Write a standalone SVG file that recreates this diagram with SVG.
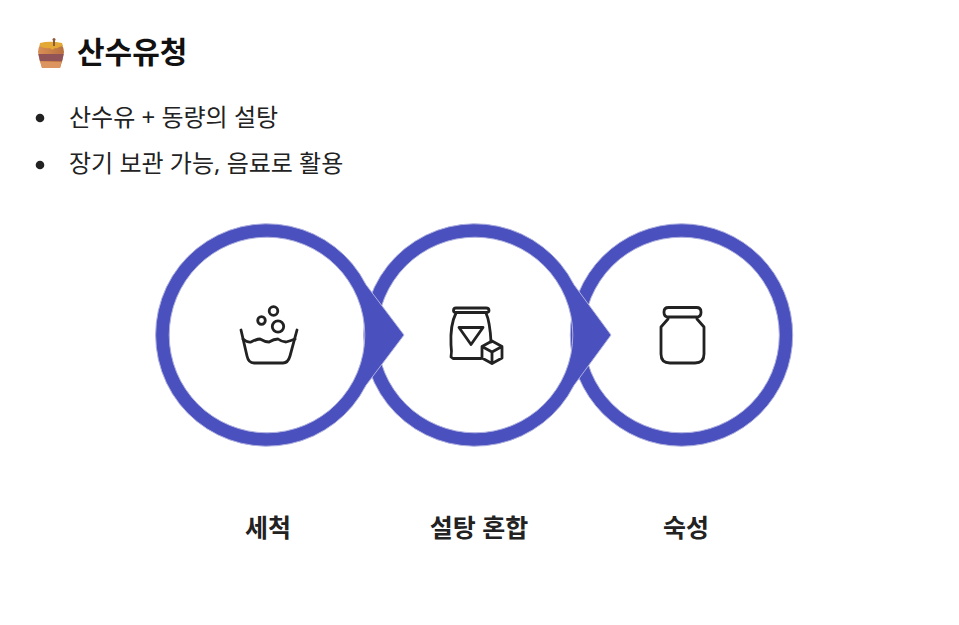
<svg xmlns="http://www.w3.org/2000/svg" width="959" height="625" viewBox="0 0 959 625">
<style>
text{font-family:"Noto Sans","Noto Sans CJK KR",sans-serif;fill:#222}
.t{font-size:30px;font-weight:700;fill:#111}
.b{font-size:24px;font-weight:400}
.l{font-size:25px;font-weight:700;text-anchor:middle}
.r{fill:#4a51bf;stroke:#aeb0df;stroke-width:1;fill-rule:evenodd}
.i{fill:none;stroke:#222;stroke-width:2.8;stroke-linecap:round;stroke-linejoin:round}
</style>
<defs>
<linearGradient id="potg" x1="0" y1="0" x2="1" y2="0"><stop offset="0" stop-color="#d98f55"/><stop offset="1" stop-color="#b8703f"/></linearGradient>
</defs>
<rect width="959" height="625" fill="#fff"/>
<g id="title">
<g id="pot">
<path d="M41 43H61Q64 48 64 52Q63 60 60 68H42Q39 60 38 52Q38 48 41 43Z" fill="url(#potg)"/>
<path d="M38.300 54H63.700L62 61H40Z" fill="#8f5358"/>
<path d="M40.500 62H61.500L60 68H42Z" fill="#dc9560"/>
<path d="M40 43Q50 40.500 62 43L63 46L59 47Q57 49 55 48Q52 51 50 48Q45 49 39.500 46Z" fill="#e3a835"/>
<path d="M54 39V46" stroke="#8b5a3a" stroke-width="2"/>
<circle cx="54" cy="39.500" r="1.500" fill="#8b5a3a"/>
</g>
<text class="t" x="77" y="63">산수유청</text>
</g>
<g id="bullets">
<circle cx="40" cy="118" r="4.300" fill="#222"/>
<text class="b" x="69" y="126">산수유 + 동량의 설탕</text>
<circle cx="40" cy="165" r="4.300" fill="#222"/>
<text class="b" x="69" y="172">장기 보관 가능, 음료로 활용</text>
</g>
<g id="step3">
<path class="r" d="M681.500 223.800A111.200 111.200 0 1 1 681.500 446.200A111.200 111.200 0 1 1 681.500 223.800ZM681.500 237.200A97.800 97.800 0 1 0 681.500 432.800A97.800 97.800 0 1 0 681.500 237.200Z"/>
<path class="i" d="M668.500 307.500H696.500Q701 307.500 701 312V312.500Q701 317 696.500 317H668.500Q664 317 664 312.500V312Q664 307.500 668.500 307.500ZM668 317V319L661 327V354Q661 363 670 363H695Q704 363 704 354V327L697 319V317"/>
<text class="l" x="686" y="537">숙성</text>
</g>
<g id="step2">
<path class="r" d="M574 284.700A111.200 111.200 0 1 0 574 385.300L611 335ZM475 237.200A97.800 97.800 0 1 1 475 432.800A97.800 97.800 0 1 1 475 237.200Z"/>
<g class="i">
<path d="M456 312.500H486Q489 312.500 489 310.500Q489 308 486 308H456Q453.500 308 453.500 310.500Q453.500 312.500 456 312.500Z"/>
<path d="M456 313Q450 325 451 345Q452 352 451 357L453 358.500H481M486 313Q490 322 491 342"/>
<path d="M459 327.500H483L471 344.500Z"/>
<path d="M492 341L502 346.500V358L492 363.500L482 358V346.500ZM482 346.500L492 352L502 346.500M492 352V363.500"/>
</g>
<text class="l" x="479" y="537">설탕 혼합</text>
</g>
<g id="step1">
<path class="r" d="M366 284.700A111.200 111.200 0 1 0 366 385.300L404 335ZM267 237.200A97.800 97.800 0 1 1 267 432.800A97.800 97.800 0 1 1 267 237.200Z"/>
<g class="i">
<path d="M241 330L247 356Q248.500 363 254 363H283Q288 363 290 356L297 330"/>
<path d="M243 339Q248 343 251 342Q257 339 260 339Q265 342 269 342Q274 339 278 339Q282 342 286 342Q290 341 295 339"/>
<circle cx="261.500" cy="320.500" r="3.800"/>
<circle cx="273.500" cy="311" r="4.300"/>
<circle cx="278" cy="326.500" r="5.700"/>
</g>
<text class="l" x="268" y="537">세척</text>
</g>
</svg>
